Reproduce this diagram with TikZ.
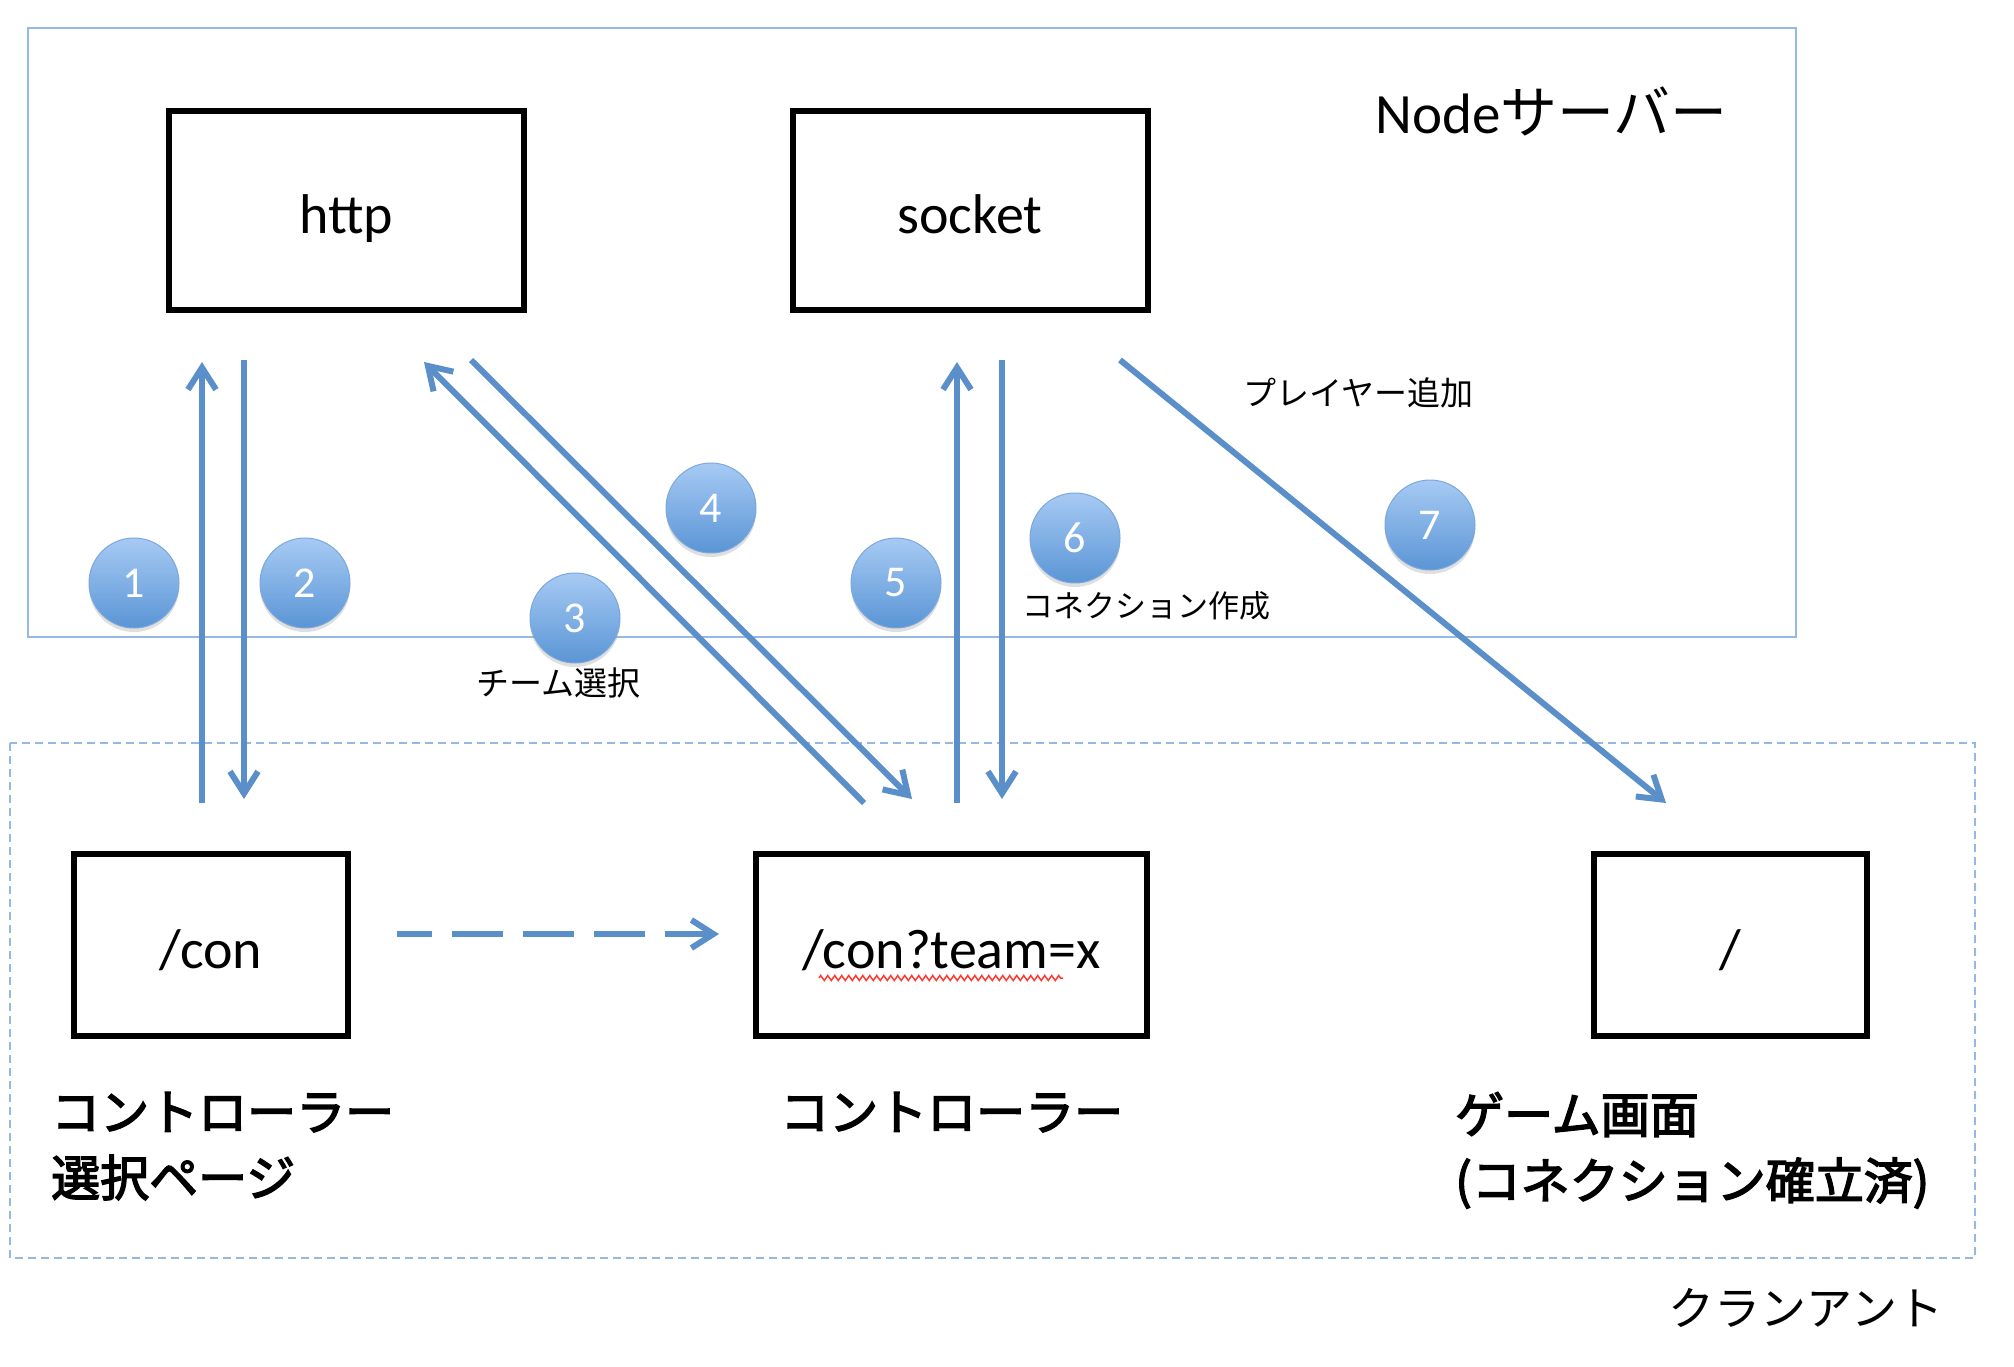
\documentclass[tikz,border=0pt]{standalone}
\usepackage{fontspec}
\setmainfont{Carlito}
\newfontfamily\jp{Noto Sans CJK JP}
\newfontfamily\jpmid[FakeBold=3]{Noto Sans CJK JP}
\usetikzlibrary{arrows.meta,positioning,calc,shadows,decorations.pathmorphing}
\definecolor{Ink}{HTML}{000000}
\definecolor{Line}{HTML}{5B8FC9}
\definecolor{Frame}{HTML}{95B9E3}
\definecolor{BadgeTop}{HTML}{A7CAF4}
\definecolor{BadgeBot}{HTML}{5A95D5}
\definecolor{BadgeRim}{HTML}{7AA8DD}
\definecolor{Squiggle}{HTML}{FF3B30}
\tikzset{
  srvbox/.style={draw=Ink,line width=6pt,fill=white,minimum width=355pt,minimum height=199pt,outer sep=0pt,text height=55pt,text depth=10pt,font=\fontsize{56}{67}\selectfont},
  pagebox/.style={srvbox,minimum height=182pt,text height=57pt},
  flowarrow/.style={-{Straight Barb[length=22pt,width=28pt]},line width=6pt,draw=Line},
  badge/.style={circle,minimum size=90pt,inner sep=0pt,top color=BadgeTop,bottom color=BadgeBot,draw=BadgeRim,line width=1pt,text=white,font=\fontsize{44}{48}\selectfont,drop shadow={opacity=0.25,shadow xshift=0pt,shadow yshift=-4pt}},
  note/.style={font=\jp\fontsize{33}{40}\selectfont,inner sep=0pt},
  caption/.style={font=\jpmid\fontsize{49}{66}\selectfont,align=left,inner sep=0pt,anchor=north west}
}

\begin{document}
\begin{tikzpicture}[x=1pt,y=-1pt]
  \useasboundingbox[fill=white] (0,0) rectangle (2014,1366);
  % frames
  \draw[Frame,line width=2.5pt] (28,28) rectangle (1796,637);
  \draw[Frame,line width=2.5pt,dash pattern=on 8pt off 5pt] (10,743) rectangle (1975,1258);
  % server side
  \node[srvbox] (http) at (346.5,210.5) {http};
  \node[srvbox] (socket) at (970,210.5) {socket};
  \node[font=\fontsize{57}{68}\selectfont,anchor=base west,inner sep=0pt] (nodesrv) at (1375,133) {Node{\jp サーバー}};
  % client pages
  \node[pagebox,minimum width=274pt] (con) at (211,945) {/con};
  \node[pagebox,minimum width=391pt] (conteam) at (951.5,945) {/con?team=x};
  \node[pagebox,minimum width=273pt] (root) at (1730.5,945) {/};
  \draw[Squiggle,line width=1.5pt,decorate,decoration={zigzag,amplitude=2.5pt,segment length=7pt}] ($(conteam.center)+(-132.5,33)$) -- ($(conteam.center)+(111.5,33)$);
  \node[caption] (selcap) at (51,1092) {コントローラー\\選択ページ};
  \node[caption] (ctlcap) at (780,1092) {コントローラー};
  \node[caption] (gamecap) at (1455,1092) {ゲーム画面\\(コネクション確立済)};
  \node[note,font=\jp\fontsize{46}{50}\selectfont] (clientcap) at (1806,1308) {クランアント};
  % requests
  \draw[flowarrow] ($(con.north)+(-9,-51)$) -- ($(http.south)+(-144.5,52)$);
  \draw[flowarrow] ($(http.south)+(-102.5,50)$) -- ($(con.north)+(33,-55)$);
  \draw[flowarrow] ($(conteam.north)+(-87.5,-51)$) -- ($(http.south)+(77.5,52)$);
  \draw[flowarrow] ($(http.south)+(124.5,50)$) -- ($(conteam.north)+(-39.5,-55)$);
  \draw[flowarrow] ($(conteam.north)+(5.5,-51)$) -- ($(socket.south)+(-13,52)$);
  \draw[flowarrow] ($(socket.south)+(32,50)$) -- ($(conteam.north)+(50.5,-55)$);
  \draw[flowarrow] ($(socket.south)+(150,50)$) -- ($(root.north)+(-64.5,-51)$);
  \draw[flowarrow,dash pattern=on 51pt off 20pt,dash phase=16pt] ($(con.east)+(49,-11)$) -- ($(conteam.west)+(-37,-11)$);
  % steps
  \foreach \n/\x/\y in {1/134/583,2/305/583,3/575/618,4/711/508,5/896/583,6/1075/538,7/1430/525}
    \node[badge] (b\n) at (\x,\y) {\n};
  \node[note] (teamsel) at (558,683) {チーム選択};
  \node[note,font=\jp\fontsize{31}{36}\selectfont] (mkconn) at (1146,606) {コネクション作成};
  \node[note] (addplayer) at (1358,393) {プレイヤー追加};
\end{tikzpicture}
\end{document}
